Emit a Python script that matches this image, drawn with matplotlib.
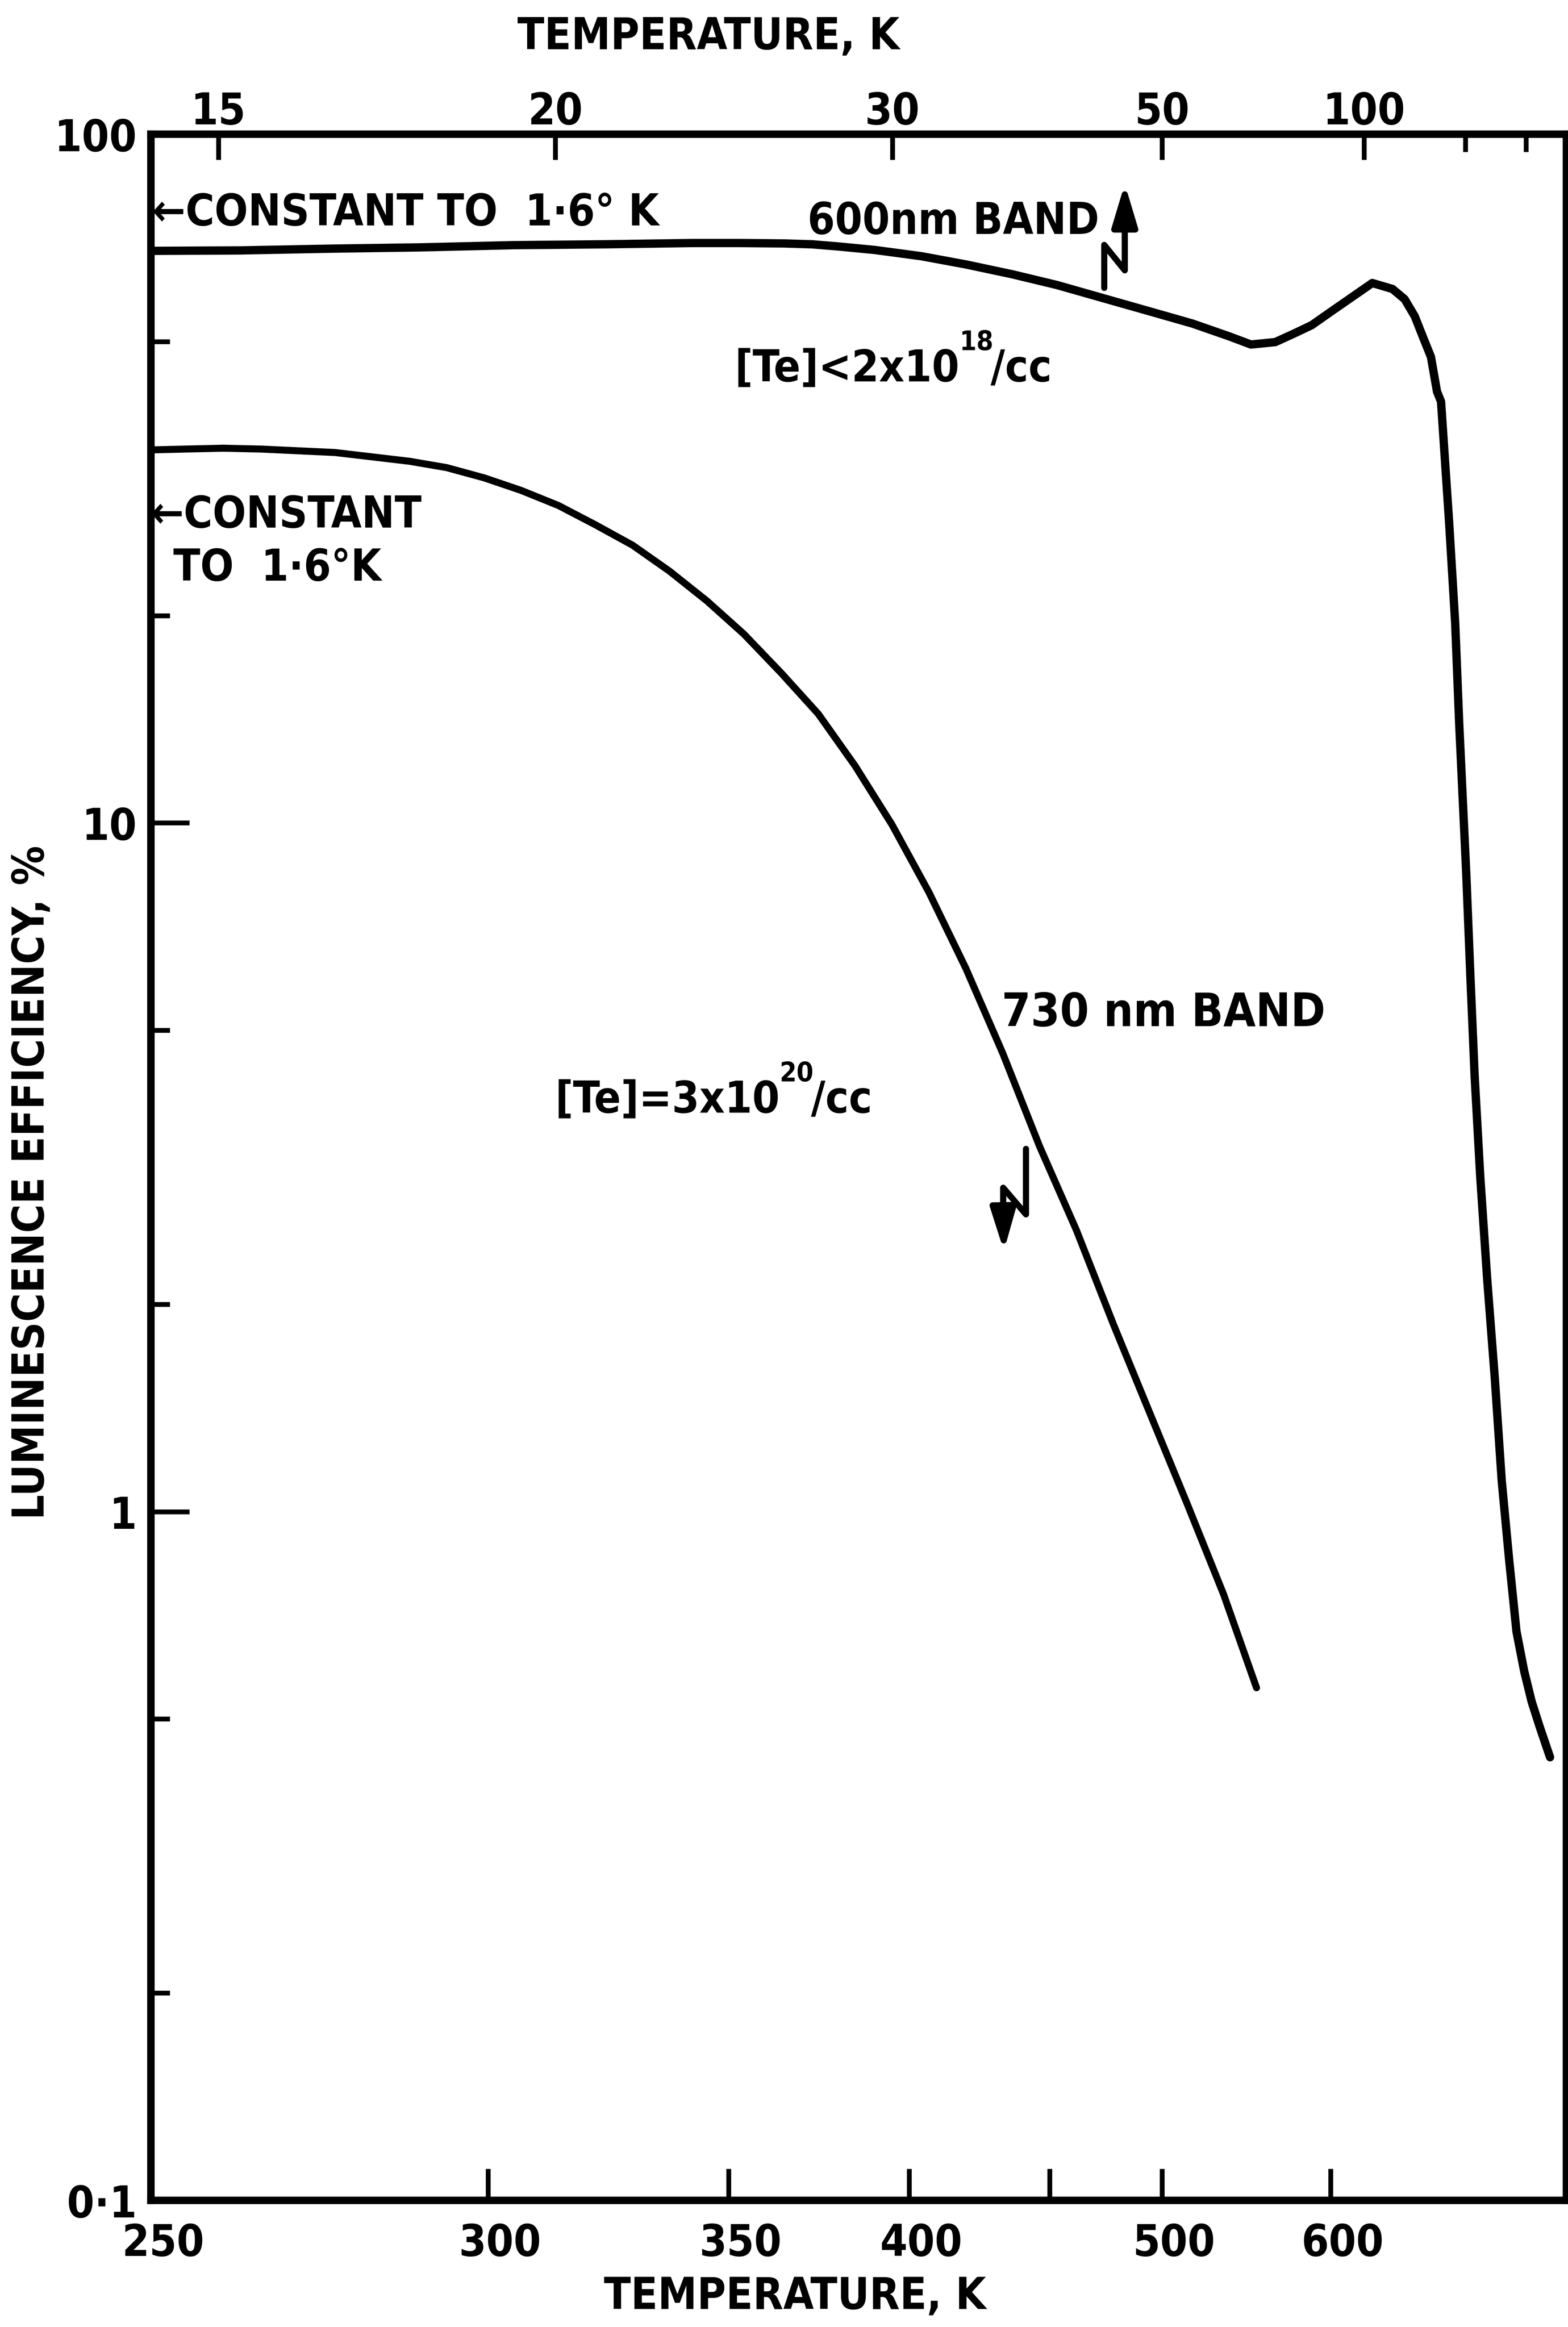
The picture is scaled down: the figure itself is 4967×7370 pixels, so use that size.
import matplotlib
matplotlib.use("Agg")
import matplotlib.pyplot as plt
from matplotlib import font_manager
from matplotlib.ticker import NullFormatter
from matplotlib.transforms import ScaledTranslation

# ---------------------------
# Data
# x values are reciprocal temperature, 1000/T (K^-1 x 1000),
# y values are luminescence efficiency in %
# ---------------------------

# 600 nm band, [Te] < 2e18/cc  (read against the TOP temperature scale)
recip_t_600 = [70.0, 65.6, 61.1, 56.6, 52.1, 47.6, 43.2, 40.9, 38.7, 37.3,
               36.0, 34.2, 31.9, 29.7, 27.4, 25.2, 23.0, 20.7, 18.5, 16.7,
               15.6, 14.4, 13.5, 12.6, 11.7, 9.6, 8.6, 8.0, 7.5, 7.1,
               6.7, 6.4, 6.2, 6.0, 5.8, 5.5, 5.3, 4.95, 4.75, 4.54,
               4.26, 3.92, 3.54, 3.20, 2.83, 2.47, 2.09, 1.72, 1.33, 0.81]
eff_600 = [67.7, 67.8, 68.2, 68.5, 69.0, 69.2, 69.5, 69.5, 69.4, 69.2,
           68.7, 67.9, 66.5, 64.7, 62.6, 60.4, 57.9, 55.4, 53.1, 50.9,
           49.5, 49.9, 51.3, 52.8, 55.1, 60.8, 59.6, 57.6, 54.4, 50.8,
           47.5, 42.3, 40.9, 33.4, 27.3, 19.5, 13.9, 8.4, 6.0, 4.3,
           3.06, 2.18, 1.56, 1.11, 0.85, 0.67, 0.587, 0.53, 0.488, 0.44]

# 730 nm band, [Te] = 3e20/cc  (read against the BOTTOM temperature scale)
recip_t_730 = [4.000, 3.931, 3.857, 3.783, 3.636, 3.488, 3.415, 3.341, 3.268, 3.194,
               3.121, 3.047, 2.974, 2.900, 2.827, 2.753, 2.680, 2.607, 2.534, 2.461,
               2.388, 2.315, 2.242, 2.169, 2.096, 2.024, 1.951, 1.878, 1.813]
eff_730 = [34.8, 34.9, 35.0, 34.9, 34.5, 33.5, 32.8, 31.7, 30.4, 28.9,
           27.1, 25.3, 23.2, 21.0, 18.8, 16.5, 14.4, 12.1, 9.94, 7.93,
           6.15, 4.63, 3.39, 2.56, 1.87, 1.39, 1.03, 0.758, 0.555]

# axis ticks (temperatures in K)
bottom_temps = [250, 300, 350, 400, 450, 500, 600]
bottom_labels = ["250", "300", "350", "400", "", "500", "600"]
top_temps = [15, 20, 30, 50, 100]
top_labels = ["15", "20", "30", "50", "100"]
top_minor_temps = [200, 500]
y_major = [0.1, 1, 10, 100]
y_major_labels = ["0\u00b71", "1", "10", "100"]
y_minor = [0.2, 0.5, 2, 5, 20, 50]

# ---------------------------
# Style: narrow bold lettering, pick what is installed
# ---------------------------
installed = {(f.name, f.stretch) for f in font_manager.fontManager.ttflist}
if any(n == "Liberation Sans Narrow" for n, _ in installed):
    family, stretch = "Liberation Sans Narrow", "normal"
elif ("DejaVu Sans", "condensed") in installed:
    family, stretch = "DejaVu Sans", "condensed"
else:
    family, stretch = "Liberation Sans", "normal"

plt.rcParams["font.family"] = [family, "DejaVu Sans"]
plt.rcParams["font.stretch"] = stretch
plt.rcParams["font.weight"] = "bold"
plt.rcParams["axes.labelweight"] = "bold"

FS = 100          # text size, pt (figure at 100 dpi)
LW_SPINE = 17
LW_TICK = 11


def zigzag_arrow(ax, xs, ys, tip):
    # bent "broken scale" arrow, coordinates in axes fraction
    ax.plot(xs, ys, color="black", lw=14, transform=ax.transAxes,
            solid_capstyle="round", solid_joinstyle="round", clip_on=False)
    ax.annotate("", xy=tip, xycoords="axes fraction",
                xytext=(xs[-1], ys[-1]), textcoords="axes fraction",
                arrowprops=dict(arrowstyle="-|>,head_length=0.8,head_width=0.24",
                                mutation_scale=100, lw=14, color="black",
                                shrinkA=0, shrinkB=0))


def sup_text(ax, x, y, base, sup, tail, size):
    t1 = ax.text(x, y, base, transform=ax.transAxes, fontsize=size,
                 ha="left", va="baseline")
    t2 = ax.annotate(sup, xy=(1.0, 0.95), xycoords=t1, fontsize=size * 0.62,
                     ha="left", va="baseline")
    ax.annotate(tail, xy=(0.92, 0.0), xycoords=(t2, t1), fontsize=size,
                ha="left", va="bottom")


fig = plt.figure(figsize=(49.67, 73.71), dpi=100)
ax = fig.add_axes([0.09624, 0.0544, 0.90275, 0.88781])

# bottom scale: linear in 1000/T
ax.set_yscale("log")
ax.set_ylim(0.1, 100)
ax.set_xlim(4.0, 1.2)
ax.plot(recip_t_730, eff_730, color="black", lw=16,
        solid_capstyle="round", solid_joinstyle="round")

ax.set_xticks([1000.0 / t for t in bottom_temps], labels=bottom_labels)
ax.set_yticks(y_major, labels=y_major_labels)
ax.set_yticks(y_minor, minor=True)
ax.yaxis.set_minor_formatter(NullFormatter())
ax.xaxis.set_minor_locator(plt.NullLocator())

ax.tick_params(axis="x", which="major", direction="in", length=72, width=LW_TICK,
               pad=50, labelsize=FS)
ax.tick_params(axis="y", which="major", direction="in", length=88, width=LW_TICK,
               pad=32, labelsize=FS)
ax.tick_params(axis="y", which="minor", direction="in", length=43, width=LW_TICK)
ax.tick_params(axis="y", which="both", right=False)

# the printed bottom numbers sit a little right of their ticks
shift = ScaledTranslation(0.38, 0, fig.dpi_scale_trans)
for lab in ax.get_xticklabels():
    lab.set_transform(lab.get_transform() + shift)

for s in ax.spines.values():
    s.set_linewidth(LW_SPINE)

# top scale: 1000/T from 70 down to 0
ax2 = ax.twiny()
ax2.set_xlim(70.0, 0.0)
ax2.plot(recip_t_600, eff_600, color="black", lw=19,
         solid_capstyle="round", solid_joinstyle="round")
ax2.set_xticks([1000.0 / t for t in top_temps], labels=top_labels)
ax2.set_xticks([1000.0 / t for t in top_minor_temps], minor=True)
ax2.xaxis.set_minor_formatter(NullFormatter())
ax2.tick_params(axis="x", which="major", direction="in", length=58, width=LW_TICK,
                pad=2, labelsize=FS)
ax2.tick_params(axis="x", which="minor", direction="in", length=40, width=LW_TICK)
for s in ax2.spines.values():
    s.set_visible(False)

# axis titles
ax.set_xlabel("TEMPERATURE, K", fontsize=FS)
ax.xaxis.set_label_coords(0.455, -0.0466)
ax.xaxis.label.set_va("center")
ax2.set_xlabel("TEMPERATURE, K", fontsize=FS)
ax2.xaxis.set_label_coords(0.394, 1.0471)
ax2.xaxis.label.set_va("center")
ax.set_ylabel("LUMINESCENCE EFFICIENCY, %", fontsize=FS)
ax.yaxis.set_label_coords(-0.0843, 0.4928)
ax.yaxis.label.set_va("center")

# annotations
ax.text(0.001, 0.9618, "\u2190CONSTANT TO  1\u00b76\u00b0 K", transform=ax.transAxes,
        fontsize=FS, ha="left", va="center")
ax.text(0.6700, 0.9577, "600nm BAND", transform=ax.transAxes,
        fontsize=FS, ha="right", va="center")
sup_text(ax, 0.4125, 0.8805, "[Te]<2x10", "18", "/cc", FS)

ax.text(0.0, 0.8157, "\u2190CONSTANT", transform=ax.transAxes,
        fontsize=FS, ha="left", va="center")
ax.text(0.0158, 0.7900, "TO  1\u00b76\u00b0K", transform=ax.transAxes,
        fontsize=FS, ha="left", va="center")

ax.text(0.6010, 0.5747, "730 nm BAND", transform=ax.transAxes,
        fontsize=106, ha="left", va="center")
sup_text(ax, 0.2855, 0.5266, "[Te]=3x10", "20", "/cc", FS)

# broken-scale arrows: up = top scale, down = bottom scale
zigzag_arrow(ax, [0.6735, 0.6735, 0.6880, 0.6880], [0.9256, 0.9464, 0.9341, 0.955], (0.6880, 0.9760))
zigzag_arrow(ax, [0.6182, 0.6182, 0.6021, 0.6021], [0.5089, 0.4772, 0.4901, 0.480], (0.6026, 0.4595))

fig.savefig("out.png", dpi=100)
